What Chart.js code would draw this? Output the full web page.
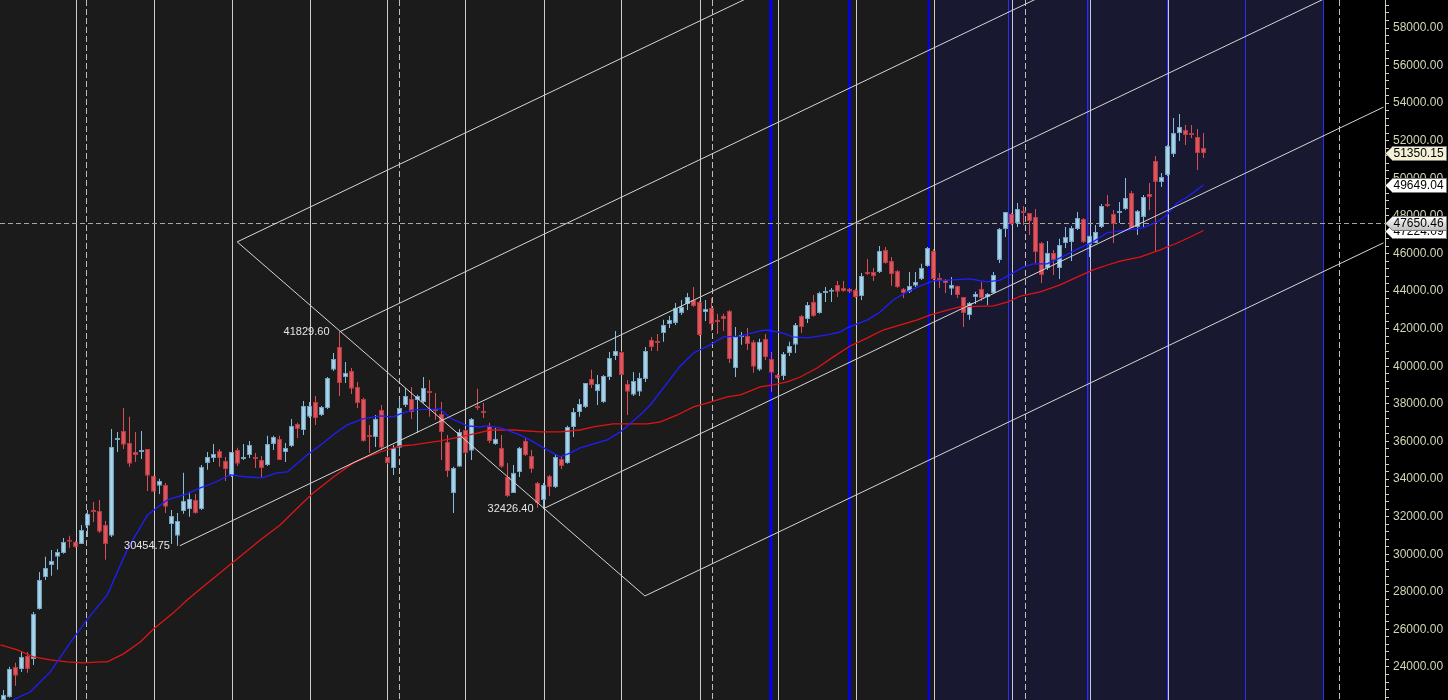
<!DOCTYPE html>
<html>
<head>
<meta charset="utf-8">
<script src="https://cdn.jsdelivr.net/npm/chart.js@4"></script>
<style>
  html, body { margin: 0; padding: 0; background: #000; }
</style>
</head>
<body>
<canvas id="chart" width="1448" height="700"></canvas>
<script>
// OHLC, one bar per entry (bar index = position in array)
const opens = [22250,22410,24010,23900,24590,24430,27090,28790,29430,29860,30070,30760,30660,30550,31510,32360,32300,31560,30980,36080,
  36560,35920,35440,35440,35600,34170,33640,33690,31610,30980,32300,32410,32890,32410,34860,35120,35500,34970,34170,35550,
  35070,35280,35120,35020,34750,35870,36140,35440,35760,36930,36610,37310,38100,37410,37780,39810,41030,39430,39750,38900,
  38260,36300,36240,37680,35180,34590,35660,37940,38260,38210,38100,38640,37730,37470,35980,33260,34650,36610,35500,37890,
  37620,36830,35870,35660,34110,33260,34380,36030,35230,33790,32890,34170,33580,35070,34860,36770,37570,37840,39330,38690,
  38100,39430,40550,40760,39060,38480,38640,39330,41400,41300,41770,42250,42310,42840,43320,43530,43420,42890,43100,42470,
  42680,42950,39910,41560,41610,41300,39810,41460,40390,39540,39490,40710,41140,42680,42520,43420,42840,43900,43960,44330,
  44170,44120,44060,43740,45020,45020,45020,46190,45600,45070,44120,43960,44280,44650,45340,46140,44700,44590,44120,44280,
  43690,42730,43690,44120,43690,43900,45660,47310,48110,47630,48210,48160,47950,46560,45230,46030,45230,46560,46620,47310,
  47840,46460,46560,47410,48640,48110,48160,48370,49220,47410,47950,49170,50930,49810,50180,51300,52410,52570,52410,52200,
  51620];
const highs = [22780,24010,24220,24800,24800,26930,29060,29860,30230,30280,30870,30980,30710,31560,32360,32780,32890,31770,36670,36510,
  37780,37310,36510,36560,35600,34170,34010,33790,32360,32200,34330,33320,33210,34750,35440,35870,35600,35180,35440,35660,
  35870,36030,35390,35230,36300,36300,36300,35920,37200,36990,38160,38100,38420,37890,39430,40710,41829.6,40230,39910,39170,
  38320,36880,37410,37940,35230,35820,38210,38850,38900,38480,39430,39270,38580,38100,36350,34650,36670,36670,37250,38800,
  38050,36990,36720,36350,34860,34750,35710,36190,35550,33850,33790,34220,35280,35180,36830,37780,38260,39110,39810,39540,
  39540,40760,41880,40820,39270,39700,39650,41030,41560,41720,42470,42680,43370,43530,43900,44220,43480,43530,43640,42790,
  42790,43000,42090,41830,42040,41400,41460,41720,40760,39590,40760,41300,42310,42730,43420,43800,43960,44220,44170,44540,
  44540,44170,44120,44970,45710,45230,46400,46350,45820,45130,44170,45020,45020,45450,46350,46240,44970,44650,44750,44280,
  43690,43420,43960,44490,43900,45020,47360,48210,48160,48690,48530,48160,48370,46620,46670,46190,46780,47410,47470,48210,
  47890,46940,47520,48640,49120,48320,48740,50020,49330,48320,49120,49750,51190,50290,51780,53210,53430,52840,52840,52630,
  52410];
const lows = [22250,22360,23000,23740,23690,24110,27040,28630,28850,29170,30020,30340,30340,30550,30920,31720,31130,29700,30920,35440,
  35600,34650,34910,35070,33370,33320,33210,32200,30550,30454.75,32150,31990,32150,32360,34490,34910,34650,33900,34110,34700,
  35020,35120,34590,34110,34700,35550,35020,34910,35710,36190,36350,37250,36880,37360,37730,39750,38420,39110,38530,37780,
  35980,35390,35710,35550,34810,34220,35390,37840,37200,36450,38050,37310,37150,35020,34110,32200,34650,35340,35020,37680,
  37250,35920,35820,34590,33050,33260,34110,35230,34330,32480,32426.4,33100,33530,34540,34810,36240,37310,37780,38850,37940,
  38050,39270,40340,39540,37410,38420,38420,39170,40820,40820,41300,42040,42200,42730,43000,43160,41610,42410,41880,41720,
  41880,40180,39430,41140,40870,39650,39750,40340,38640,39330,39270,40550,40710,41770,42310,42630,42790,43420,43420,43690,
  43960,43900,43640,43530,44860,44540,44970,45450,44280,44170,43640,43900,44220,44590,45290,44590,44170,43900,43800,43640,
  42090,42470,43320,43480,43260,43850,45500,46880,47520,47410,47520,46990,45500,44430,45130,44860,44650,46300,45600,47250,
  46560,45820,46560,47360,48480,46560,47630,48320,47360,46990,47410,48320,46080,49540,50130,51140,51990,51780,52150,50450,
  51080];
const closes = [22520,23900,23530,24540,23900,26830,28630,29270,29650,30120,30660,30660,30390,31290,32150,32250,31190,30550,35710,36190,
  35820,34810,35280,35550,34170,33320,33900,32520,32040,31770,32840,32940,32200,34650,35180,35340,35120,34540,35440,34810,
  35120,35820,35070,34590,35870,36240,35020,35660,36830,36670,37890,37890,37250,37840,39380,40390,39110,39650,38800,38050,
  36030,36240,37200,35660,34860,35660,37780,38420,37570,38420,38850,38580,37620,36510,34430,34590,36510,35390,37200,37780,
  37520,36030,36140,34650,33100,34330,35660,35280,34540,32730,33690,33580,35180,34700,36770,37570,38000,39110,39010,39060,
  39490,40440,40820,39540,38640,39220,39380,40820,41030,41240,42200,42470,43100,43160,43690,43210,41670,43050,42250,42360,
  42520,40390,41560,41610,41190,39970,41300,40500,39650,39380,40660,41080,42200,42090,43260,42680,43900,44010,44060,43960,
  44010,43960,43690,44810,44910,44810,46140,45500,44910,44220,43900,44280,44490,45230,46300,44650,44590,44430,44330,43800,
  42840,43370,43850,43640,43850,44860,47310,48210,47570,48370,48160,47730,46080,44860,46030,45660,46460,46880,47360,47890,
  46620,46940,47150,48530,48530,47570,48270,48960,47360,48270,49010,49010,49810,50070,51720,52410,52730,52310,52310,51350,
  51350.15];

// moving averages (bar index, value)
const blueMaX = [1.6,4.5,7.8,11.1,13.9,17.3,20.6,24,27.3,30.6,32.8,35,37.8,40.6,43.1,45.6,47.3,50.6,53.3,54.9,57.3,59.9,62.8,65,66.1,68.3,72.8,74.4,77.3,79.4,80.6,82.8,86.1,88.3,90.6,92.8,94.5,96.1,100.6,102.8,106.1,107.8,110.6,112.8,115,117.8,120,122.8,126.1,127.3,129.9,131.6,133.9,137.3,139.5,140.6,144,146.1,148.3,150.6,152.8,155,161.1,163.9,166.1,168.3,170,171.6,173.9,176.1,179.4,181.6,183.9,186.1,189.9,192.3,193.9,195.6,197.3,200];
const blueMaY = [22250,22680,23740,25280,26510,27840,30230,32090,32890,33210,33530,33790,34220,34110,34060,34330,34380,35280,35920,36350,36880,37200,37360,37310,37470,37680,37730,37250,36830,36770,36830,36720,36350,35980,35550,35180,35390,35660,36080,36510,37410,37940,39110,40020,40710,41140,41560,41610,41880,41930,41770,41560,41510,41670,41830,42040,42470,42890,43530,43960,44280,44540,44650,44490,44590,44970,45290,45450,45450,45770,46300,46620,47100,47200,47360,47680,48050,48690,49010,49649.04];
const redMaX = [-0.5,2.3,5,7.8,10.6,13.3,16.1,17.3,20,22.8,25,28.3,30.6,32.8,42.8,46.1,49.5,51.6,55,58.3,60.6,62.8,66.1,68.3,72.8,76.1,79,81.1,85,89.5,92.8,96.1,98.3,101.6,107.3,109.5,112.3,115,117.8,120.6,122.8,124.5,126.1,128.3,130.6,132.8,135.6,138.3,141.1,144,146.6,149.5,152.3,154.5,157.3,159.4,165,167.3,169.5,172.8,176.1,179,181.6,184,186.1,189.5,192.8,195.6,197.8,200];
const redMaY = [25180,24910,24540,24380,24270,24220,24270,24270,24700,25330,26020,26880,27570,28150,30760,31560,32620,33260,34110,34860,35180,35440,35760,35820,36030,36240,36450,36610,36610,36510,36510,36610,36780,36940,36940,37040,37410,37840,38100,38370,38480,38690,38900,39010,39170,39430,39910,40500,41080,41510,41930,42200,42470,42730,42990,43160,43210,43420,43740,43960,44330,44760,45130,45390,45600,45820,46190,46560,46880,47224.09];

// pitchfork / channel lines: start (bar, price) -> end (bar, price)
const tlX1 = [38.95, 56, 29.4, 90, 106.9, 38.95];
const tlY1 = [46620, 41829.6, 30454.75, 32426.4, 27780, 46620];
const tlX2 = [230, 230, 230, 230, 230, 106.9];
const tlY2 = [75760, 68380, 61060, 53790, 46570, 27780];

// pivot labels
const pivotX = [56, 29.4, 90];
const pivotY = [41829.6, 30454.75, 32426.4];

// time cycle lines (bar positions)
const whiteCycles = [12, 25, 38, 51, 64, 77, 90, 103, 116, 129, 142, 155, 168, 181, 194];
const blueCycles = [127.9, 141, 154.2, 167.5, 180.7, 194, 207, 220];
const blueWidths = [3, 2.5, 2, 1, 1.5, 1, 1, 1];
const dashCycles = [13.7, 65.9, 118, 170.2, 222.5];
const shadedZone = [155.1, 220];
const crossPrice = 47650.46;

const yTickStep = 2000;
const yMin = 22244, yMax = 59490;
const xMin = -3.5 / 6, xMax = xMin + 1385 / 6;

const up = i => closes[i] >= opens[i];
const FONT = '"Liberation Sans", Arial, sans-serif';

const backdrop = {
  id: 'backdrop',
  beforeDatasetsDraw(chart) {
    const { ctx, chartArea: a, scales: { x, y } } = chart;
    ctx.save();
    ctx.beginPath(); ctx.rect(a.left, a.top, a.width, a.height); ctx.clip();
    ctx.fillStyle = '#1b1b1b';
    ctx.fillRect(a.left, a.top, a.width, a.height);
    const z0 = x.getPixelForValue(shadedZone[0]), z1 = x.getPixelForValue(shadedZone[1]);
    ctx.fillStyle = '#181830';
    ctx.fillRect(z0, a.top, z1 - z0, a.height);
    ctx.fillStyle = '#000';
    ctx.fillRect(z1, a.top, a.right - z1, a.height);

    // blue cycle lines first, the white ones sit on top of them
    blueCycles.forEach((v, k) => {
      const px = x.getPixelForValue(v);
      ctx.strokeStyle = k < 3 ? '#0000ff' : '#2a2aff';
      ctx.lineWidth = blueWidths[k];
      ctx.beginPath(); ctx.moveTo(px, a.top); ctx.lineTo(px, a.bottom); ctx.stroke();
    });
    ctx.lineWidth = 1;
    whiteCycles.forEach(v => {
      const px = Math.round(x.getPixelForValue(v)) + 0.5;
      ctx.strokeStyle = v >= shadedZone[0] ? '#c6c6dc' : '#cbcbcb';
      ctx.beginPath(); ctx.moveTo(px, a.top); ctx.lineTo(px, a.bottom); ctx.stroke();
    });
    ctx.strokeStyle = '#bdbdbd';
    ctx.setLineDash([6, 3]);
    dashCycles.forEach(v => {
      const px = Math.round(x.getPixelForValue(v)) + 0.5;
      ctx.beginPath(); ctx.moveTo(px, a.top); ctx.lineTo(px, a.bottom); ctx.stroke();
    });
    ctx.strokeStyle = '#a8a898';
    ctx.setLineDash([5, 3]);
    const cy = Math.round(y.getPixelForValue(crossPrice)) + 0.5;
    ctx.beginPath(); ctx.moveTo(a.left, cy); ctx.lineTo(a.right, cy); ctx.stroke();
    ctx.restore();
  },
  afterDraw(chart) {
    const { ctx, chartArea: a, scales: { x, y } } = chart;
    ctx.save();
    // pivot labels
    ctx.font = '11px ' + FONT;
    ctx.fillStyle = '#e4e4e4';
    ctx.textAlign = 'right';
    ctx.textBaseline = 'middle';
    pivotX.forEach((v, k) => {
      ctx.fillText(pivotY[k].toFixed(2), x.getPixelForValue(v) - 10, y.getPixelForValue(pivotY[k]));
    });
    // price tags on the axis
    const tags = [
      [redMaY[redMaY.length - 1], '#ffffff'],
      [blueMaY[blueMaY.length - 1], '#ffffff'],
      [closes[closes.length - 1], '#f3f0d6'],
      [crossPrice, 'grad']
    ];
    ctx.font = '12px ' + FONT;
    ctx.textAlign = 'left';
    tags.forEach(([v, bg]) => {
      const py = Math.round(y.getPixelForValue(v)) + 0.5;
      const l = a.right + 0.5, r = chart.width - 1.5;
      ctx.beginPath();
      ctx.moveTo(l, py);
      ctx.lineTo(l + 7, py - 7);
      ctx.lineTo(r, py - 7);
      ctx.lineTo(r, py + 7);
      ctx.lineTo(l + 7, py + 7);
      ctx.closePath();
      if (bg === 'grad') {
        const g = ctx.createLinearGradient(0, py - 7, 0, py + 7);
        g.addColorStop(0, '#ffffff'); g.addColorStop(1, '#bdbdbd');
        ctx.fillStyle = g;
      } else ctx.fillStyle = bg;
      ctx.fill();
      ctx.strokeStyle = '#7a7a7a'; ctx.lineWidth = 1; ctx.stroke();
      ctx.fillStyle = '#000';
      ctx.fillText(v.toFixed(2), l + 8, py + 0.5);
    });
    ctx.restore();
  }
};

const datasets = [
  {
    type: 'bar', label: 'wick', order: 4, grouped: false, barThickness: 1, inflateAmount: 0,
    data: highs.map((h, i) => ({ x: i, y: [lows[i], h] })),
    backgroundColor: c => up(c.dataIndex) ? 'rgba(140,198,232,0.95)' : 'rgba(226,82,88,0.95)'
  },
  {
    type: 'bar', label: 'body', order: 3, grouped: false, barThickness: 5, inflateAmount: 0,
    minBarLength: 2, borderWidth: 1, borderSkipped: false,
    data: opens.map((o, i) => ({ x: i, y: [o, closes[i]] })),
    backgroundColor: c => up(c.dataIndex) ? 'rgba(172,216,236,0.93)' : 'rgba(228,88,94,0.93)',
    borderColor: c => up(c.dataIndex) ? 'rgba(118,168,204,0.95)' : 'rgba(188,60,70,0.95)'
  },
  {
    type: 'line', label: 'ma red', order: 2, borderColor: '#e01414', borderWidth: 1.3,
    pointRadius: 0, data: redMaX.map((v, i) => ({ x: v, y: redMaY[i] }))
  },
  {
    type: 'line', label: 'ma blue', order: 1, borderColor: '#1e1eff', borderWidth: 1.3,
    pointRadius: 0, data: blueMaX.map((v, i) => ({ x: v, y: blueMaY[i] }))
  }
];
tlX1.forEach((v, k) => {
  datasets.push({
    type: 'line', label: 'tl' + k, order: 0, borderColor: '#d6d6d6', borderWidth: 1,
    pointRadius: 0, data: [{ x: v, y: tlY1[k] }, { x: tlX2[k], y: tlY2[k] }]
  });
});

const yTicks = [];
for (let v = 22400; v <= 59200; v += 400) yTicks.push(v);

new Chart(document.getElementById('chart'), {
  type: 'bar',
  data: { datasets },
  options: {
    responsive: false,
    animation: false,
    layout: { padding: 0 },
    plugins: { legend: { display: false }, tooltip: { enabled: false } },
    scales: {
      x: { type: 'linear', min: xMin, max: xMax, offset: false, display: false },
      y: {
        type: 'linear', position: 'right', min: yMin, max: yMax, beginAtZero: false,
        afterBuildTicks: s => { s.ticks = yTicks.map(v => ({ value: v })); },
        afterFit: s => { s.width = 63; s.paddingTop = 0; s.paddingBottom = 0; },
        ticks: {
          autoSkip: false, padding: 4, color: '#d4d4b6',
          font: { family: FONT, size: 12 },
          callback: v => v % yTickStep === 0 ? v.toFixed(2) : ''
        },
        grid: { drawOnChartArea: false, tickLength: 4, color: '#cfcfb8' },
        border: { color: '#cfcfb8' }
      }
    }
  },
  plugins: [backdrop]
});
</script>
</body>
</html>
